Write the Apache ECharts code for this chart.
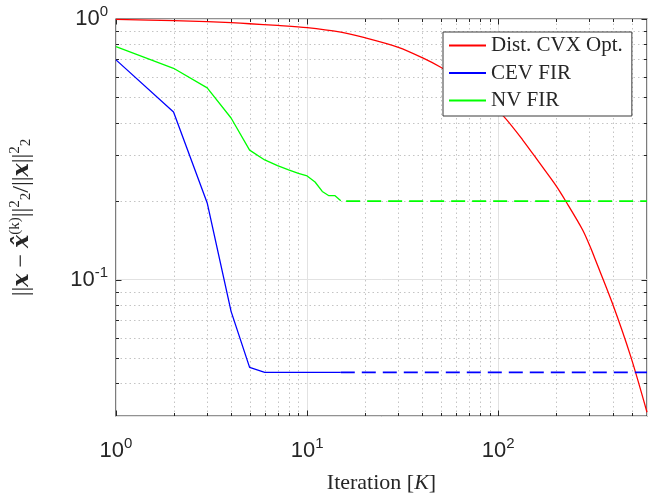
<!DOCTYPE html>
<html>
<head>
<meta charset="utf-8">
<script src="https://cdn.jsdelivr.net/npm/echarts@6/dist/echarts.min.js"></script>
<style>html,body{margin:0;padding:0;background:#fff}#c{width:649px;height:501px}</style>
</head>
<body>
<div id="c"></div>
<script>
// ---- data ----
const seriesNames = ['Dist. CVX Opt.', 'CEV FIR', 'NV FIR'];
const cvxIter = [1, 2, 3, 4, 5, 7, 10, 15, 20, 30, 40, 50, 70, 85, 107, 134, 164, 200, 226, 276, 305, 321, 395, 493, 600];
const cvxErr  = [0.997, 0.985, 0.977, 0.968, 0.959, 0.945, 0.927, 0.89, 0.848, 0.779, 0.711, 0.653, 0.56, 0.495, 0.422, 0.344, 0.281, 0.23, 0.1995, 0.1555, 0.132, 0.120, 0.0814, 0.0508, 0.031];
const cevIter = [1, 2, 3, 4, 5, 6, 7, 8, 9, 10, 11, 12, 13, 14, 15];
const cevErr  = [0.697, 0.44, 0.197, 0.0756, 0.0461, 0.0441, 0.0441, 0.0441, 0.0441, 0.0441, 0.0441, 0.0441, 0.0441, 0.0441, 0.0441];
const cevTailIter = [15, 600];
const cevTailErr  = [0.0441, 0.0441];
const nvIter = [1, 2, 3, 4, 5, 6, 7, 8, 9, 10, 11, 12, 13, 14, 15];
const nvErr  = [0.783, 0.647, 0.544, 0.417, 0.314, 0.288, 0.274, 0.264, 0.256, 0.250, 0.237, 0.218, 0.210, 0.210, 0.201];
const nvTailIter = [16, 600];
const nvTailErr  = [0.2, 0.2];
const xMajorTicks = [1, 10, 100];
const xMinorTicks = [2, 3, 4, 5, 6, 7, 8, 9, 20, 30, 40, 50, 60, 70, 80, 90, 200, 300, 400, 500];
const yMajorTicks = [0.1, 1];
const yMinorTicks = [0.04, 0.05, 0.06, 0.07, 0.08, 0.09, 0.2, 0.3, 0.4, 0.5, 0.6, 0.7, 0.8, 0.9];
const xRange = [1, 600];
const yRange = [0.03, 1];

// ---- chart ----
const zip = (a, b) => a.map((v, i) => [v, b[i]]);
const AX = '#262626';
const isPow10 = v => Math.abs(Math.log10(v) - Math.round(Math.log10(v))) < 1e-6;
const powLabel = v => isPow10(v) ? '{b|10}{s|' + Math.round(Math.log10(v)) + '}' : '';
const labelRich = {
  b: {fontFamily: 'Liberation Sans', fontSize: 22, color: AX},
  s: {fontFamily: 'Liberation Sans', fontSize: 15, color: AX, padding: [0, 0, 14, 0]}
};

function tickRender(horizontal) {
  return function (params, api) {
    const cs = params.coordSys;
    const major = api.value(2) === 1;
    const len = major ? 5.5 : 3;
    const children = [];
    if (horizontal) {
      const px = Math.round(api.coord([api.value(0), 1])[0]) + 0.5;
      const y0 = cs.y, y1 = cs.y + cs.height;
      if (!major) children.push({type: 'line', shape: {x1: px, y1: y0, x2: px, y2: y1},
        style: {stroke: '#c4c4c4', lineWidth: 1, lineDash: [1.5, 3]}});
      children.push({type: 'line', shape: {x1: px, y1: y1, x2: px, y2: y1 - len}, style: {stroke: AX, lineWidth: 1}});
      children.push({type: 'line', shape: {x1: px, y1: y0, x2: px, y2: y0 + len}, style: {stroke: AX, lineWidth: 1}});
    } else {
      const py = Math.round(api.coord([1, api.value(1)])[1]) + 0.5;
      const x0 = cs.x, x1 = cs.x + cs.width;
      if (!major) children.push({type: 'line', shape: {x1: x0, y1: py, x2: x1, y2: py},
        style: {stroke: '#c4c4c4', lineWidth: 1, lineDash: [1.5, 3]}});
      children.push({type: 'line', shape: {x1: x0, y1: py, x2: x0 + len, y2: py}, style: {stroke: AX, lineWidth: 1}});
      children.push({type: 'line', shape: {x1: x1, y1: py, x2: x1 - len, y2: py}, style: {stroke: AX, lineWidth: 1}});
    }
    return {type: 'group', children};
  };
}

const chart = echarts.init(document.getElementById('c'), null, {renderer: 'canvas'});
chart.setOption({
  animation: false,
  backgroundColor: '#fff',
  grid: {left: 116, top: 19, right: 2, bottom: 85, show: true, borderColor: AX, borderWidth: 1.2,
         backgroundColor: 'transparent', containLabel: false, outerBoundsMode: 'none'},
  legend: {
    data: seriesNames,
    orient: 'vertical',
    left: 443, top: 32,
    itemWidth: 37, itemHeight: 12, itemGap: 6.5,
    padding: [3, 9, 5, 5],
    backgroundColor: '#fff', borderColor: '#3a3a3a', borderWidth: 1,
    itemStyle: {opacity: 0},
    textStyle: {fontFamily: 'Liberation Serif', fontSize: 21, lineHeight: 21, color: AX},
    selectedMode: false
  },
  xAxis: {
    type: 'log', logBase: 10, min: xRange[0], max: xRange[1],
    axisLine: {show: false}, axisTick: {show: false},
    splitLine: {show: true, lineStyle: {color: '#e2e2e2', width: 1}},
    axisLabel: {formatter: powLabel, rich: labelRich, margin: 20, showMinLabel: true, showMaxLabel: true},
    name: '{n|Iteration [}{i|K}{n|]}', nameLocation: 'middle', nameGap: 56,
    nameTextStyle: {rich: {
      n: {fontFamily: 'Liberation Serif', fontSize: 22, color: AX},
      i: {fontFamily: 'Liberation Serif', fontStyle: 'italic', fontSize: 22, color: AX}
    }}
  },
  yAxis: {
    type: 'log', logBase: 10, min: yRange[0], max: yRange[1],
    axisLine: {show: false}, axisTick: {show: false},
    splitLine: {show: true, lineStyle: {color: '#e2e2e2', width: 1}},
    axisLabel: {formatter: powLabel, rich: labelRich, margin: 8, showMinLabel: true, showMaxLabel: true},
    name: '{n|||}{b|x}{n| − }{b|x̂}{s|(k)}{n|||}{s|2}{u|2}{n|/||}{b|x}{n|||}{s|2}{u|2}',
    nameLocation: 'middle', nameGap: 80, nameRotate: 90,
    nameTextStyle: {rich: {
      n: {fontFamily: 'Liberation Serif', fontSize: 24, color: AX},
      b: {fontFamily: 'DejaVu Serif', fontStyle: 'italic', fontWeight: 'bold', fontSize: 22, color: AX},
      s: {fontFamily: 'Liberation Serif', fontSize: 15, color: AX, padding: [0, 0, 13, 0]},
      u: {fontFamily: 'Liberation Serif', fontSize: 15, color: AX, padding: [9, 0, 0, 0]}
    }}
  },
  series: [
    {type: 'custom', silent: true, z: 1, renderItem: tickRender(true),
     data: xMinorTicks.map(v => [v, 1, 0]).concat(xMajorTicks.map(v => [v, 1, 1]))},
    {type: 'custom', silent: true, z: 1, renderItem: tickRender(false),
     data: yMinorTicks.map(v => [1, v, 0]).concat(yMajorTicks.map(v => [1, v, 1]))},
    {name: seriesNames[0], type: 'line', data: zip(cvxIter, cvxErr), smooth: 0.3, symbol: 'none', z: 3,
     lineStyle: {color: '#ff0000', width: 1.3}, itemStyle: {color: '#ff0000'}},
    {name: seriesNames[1], type: 'line', data: zip(cevIter, cevErr), symbol: 'none', z: 3,
     lineStyle: {color: '#0000ff', width: 1.3}, itemStyle: {color: '#0000ff'}},
    {name: seriesNames[2], type: 'line', data: zip(nvIter, nvErr), symbol: 'none', z: 3,
     lineStyle: {color: '#00ff00', width: 1.3}, itemStyle: {color: '#00ff00'}},
    {name: 'CEV tail', type: 'line', data: zip(cevTailIter, cevTailErr), symbol: 'none', z: 3,
     lineStyle: {color: '#0000ff', width: 1.7, type: [14, 7]}},
    {name: 'NV tail', type: 'line', data: zip(nvTailIter, nvTailErr), symbol: 'none', z: 3,
     lineStyle: {color: '#00ff00', width: 1.7, type: [14, 7]}}
  ]
});
</script>
</body>
</html>
